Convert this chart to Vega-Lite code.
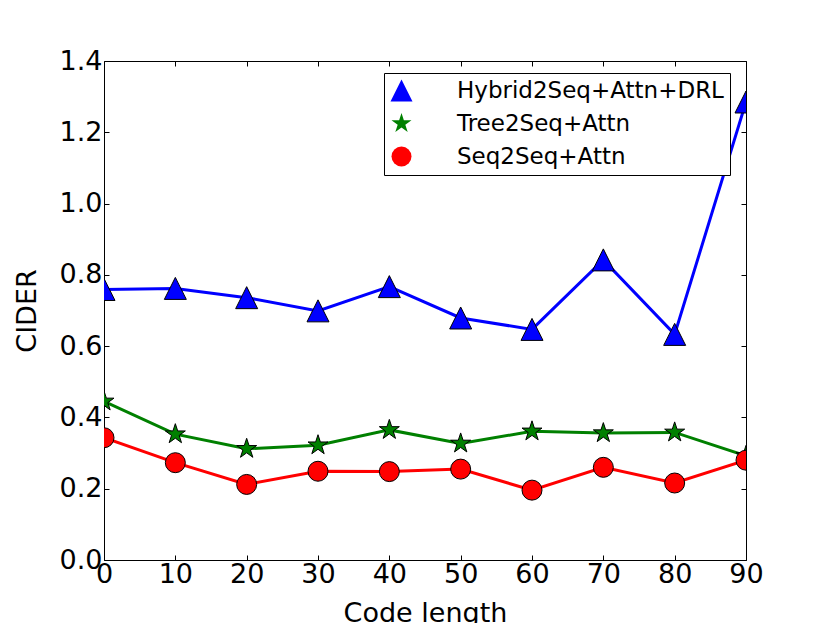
{
  "$schema": "https://vega.github.io/schema/vega-lite/v6.json",
  "width": 642,
  "height": 499,
  "autosize": "none",
  "padding": {"left": 104, "top": 61, "right": 84, "bottom": 63},
  "background": "white",
  "config": {
    "font": "DejaVu Sans",
    "view": {"stroke": "black", "strokeWidth": 1},
    "axis": {
      "grid": false,
      "domain": false,
      "tickColor": "black",
      "tickSize": -5,
      "labelColor": "black",
      "labelFont": "DejaVu Sans",
      "labelFontSize": 27,
      "labelFlush": false,
      "labelOverlap": false,
      "titleFont": "DejaVu Sans",
      "titleFontSize": 27,
      "titleFontWeight": "normal",
      "titleColor": "black"
    }
  },
  "data": {
    "values": [
      {"len": 0, "series": "Hybrid2Seq+Attn+DRL", "cider": 0.759},
      {"len": 10, "series": "Hybrid2Seq+Attn+DRL", "cider": 0.762},
      {"len": 20, "series": "Hybrid2Seq+Attn+DRL", "cider": 0.736},
      {"len": 30, "series": "Hybrid2Seq+Attn+DRL", "cider": 0.699},
      {"len": 40, "series": "Hybrid2Seq+Attn+DRL", "cider": 0.767},
      {"len": 50, "series": "Hybrid2Seq+Attn+DRL", "cider": 0.679},
      {"len": 60, "series": "Hybrid2Seq+Attn+DRL", "cider": 0.647},
      {"len": 70, "series": "Hybrid2Seq+Attn+DRL", "cider": 0.842},
      {"len": 80, "series": "Hybrid2Seq+Attn+DRL", "cider": 0.633},
      {"len": 90, "series": "Hybrid2Seq+Attn+DRL", "cider": 1.285},
      {"len": 0, "series": "Tree2Seq+Attn", "cider": 0.445},
      {"len": 10, "series": "Tree2Seq+Attn", "cider": 0.353},
      {"len": 20, "series": "Tree2Seq+Attn", "cider": 0.312},
      {"len": 30, "series": "Tree2Seq+Attn", "cider": 0.322},
      {"len": 40, "series": "Tree2Seq+Attn", "cider": 0.365},
      {"len": 50, "series": "Tree2Seq+Attn", "cider": 0.327},
      {"len": 60, "series": "Tree2Seq+Attn", "cider": 0.361},
      {"len": 70, "series": "Tree2Seq+Attn", "cider": 0.356},
      {"len": 80, "series": "Tree2Seq+Attn", "cider": 0.358},
      {"len": 90, "series": "Tree2Seq+Attn", "cider": 0.292},
      {"len": 0, "series": "Seq2Seq+Attn", "cider": 0.343},
      {"len": 10, "series": "Seq2Seq+Attn", "cider": 0.273},
      {"len": 20, "series": "Seq2Seq+Attn", "cider": 0.212},
      {"len": 30, "series": "Seq2Seq+Attn", "cider": 0.249},
      {"len": 40, "series": "Seq2Seq+Attn", "cider": 0.248},
      {"len": 50, "series": "Seq2Seq+Attn", "cider": 0.255},
      {"len": 60, "series": "Seq2Seq+Attn", "cider": 0.196},
      {"len": 70, "series": "Seq2Seq+Attn", "cider": 0.26},
      {"len": 80, "series": "Seq2Seq+Attn", "cider": 0.216},
      {"len": 90, "series": "Seq2Seq+Attn", "cider": 0.28}
    ]
  },
  "layer": [
    {
      "mark": {"type": "line", "strokeWidth": 3, "clip": true},
      "encoding": {
        "x": {
          "field": "len",
          "type": "quantitative",
          "scale": {"domain": [0, 90], "nice": false, "zero": false},
          "axis": {"orient": "bottom", "values": [0, 10, 20, 30, 40, 50, 60, 70, 80, 90], "format": "d", "labelPadding": 6, "titlePadding": 13},
          "title": "Code length"
        },
        "y": {
          "field": "cider",
          "type": "quantitative",
          "scale": {"domain": [0, 1.4], "nice": false},
          "axis": {"orient": "left", "values": [0, 0.2, 0.4, 0.6, 0.8, 1.0, 1.2, 1.4], "format": ".1f", "labelPadding": 7, "titlePadding": 18},
          "title": "CIDER"
        },
        "color": {
          "field": "series",
          "type": "nominal",
          "scale": {
            "domain": ["Hybrid2Seq+Attn+DRL", "Tree2Seq+Attn", "Seq2Seq+Attn"],
            "range": ["#0000ff", "#008000", "#ff0000"]
          }
        },
        "detail": {"field": "series"}
      }
    },
    {
      "transform": [{"calculate": "datum.series", "as": "marker"}],
      "mark": {"type": "point", "filled": true, "opacity": 1, "stroke": "black", "strokeWidth": 1, "clip": true},
      "encoding": {
        "x": {
          "field": "len",
          "type": "quantitative",
          "axis": {"orient": "top", "values": [0, 10, 20, 30, 40, 50, 60, 70, 80, 90], "labels": false, "title": null}
        },
        "y": {
          "field": "cider",
          "type": "quantitative",
          "axis": {"orient": "right", "values": [0, 0.2, 0.4, 0.6, 0.8, 1.0, 1.2, 1.4], "labels": false, "title": null}
        },
        "color": {
          "field": "series",
          "type": "nominal",
          "legend": {
            "orient": "none",
            "legendX": 280,
            "legendY": 12,
            "title": null,
            "padding": 6,
            "strokeColor": "black",
            "fillColor": "white",
            "cornerRadius": 0,
            "labelFont": "DejaVu Sans",
            "labelFontSize": 23,
            "labelColor": "black",
            "labelOffset": 44,
            "symbolSize": 576,
            "symbolStrokeWidth": 0,
            "rowPadding": 9,
            "labelLimit": 400,
            "encode": {
              "symbols": {
                "shape": {"value": {"expr": "datum.value === 'Hybrid2Seq+Attn+DRL' ? 'M-0.208,-0.792L0.583,0.792L-1,0.792ZM2.708,-0.792L3.5,0.792L1.917,0.792ZM-0.208,-0.104L2.708,-0.104L2.708,0.104L-0.208,0.104Z' : datum.value === 'Tree2Seq+Attn' ? 'M-0.208,-0.833L-0.021,-0.257L0.584,-0.257L0.094,0.098L0.282,0.674L-0.208,0.318L-0.698,0.674L-0.51,0.098L-1,-0.257L-0.395,-0.257ZM2.708,-0.833L2.895,-0.257L3.5,-0.257L3.01,0.098L3.198,0.674L2.708,0.318L2.218,0.674L2.406,0.098L1.916,-0.257L2.521,-0.257ZM-0.208,-0.104L2.708,-0.104L2.708,0.104L-0.208,0.104Z' : 'M-1.042,0A0.833,0.833 0 1,0 0.625,0A0.833,0.833 0 1,0 -1.042,0ZM1.875,0A0.833,0.833 0 1,0 3.542,0A0.833,0.833 0 1,0 1.875,0ZM-0.208,-0.104L2.708,-0.104L2.708,0.104L-0.208,0.104Z'"}}
              }
            }
          }
        },
        "shape": {
          "field": "marker",
          "type": "nominal",
          "scale": {
            "domain": ["Hybrid2Seq+Attn+DRL", "Tree2Seq+Attn", "Seq2Seq+Attn"],
            "range": [
              "M0,-1L1,1L-1,1Z",
              "M0,-1L0.225,-0.309L0.951,-0.309L0.363,0.118L0.588,0.809L0,0.382L-0.588,0.809L-0.363,0.118L-0.951,-0.309L-0.225,-0.309Z",
              "circle"
            ]
          },
          "legend": null
        },
        "size": {
          "field": "marker",
          "type": "nominal",
          "scale": {
            "domain": ["Hybrid2Seq+Attn+DRL", "Tree2Seq+Attn", "Seq2Seq+Attn"],
            "range": [484, 400, 484]
          },
          "legend": null
        }
      }
    }
  ],
  "resolve": {"axis": {"x": "independent", "y": "independent"}}
}
